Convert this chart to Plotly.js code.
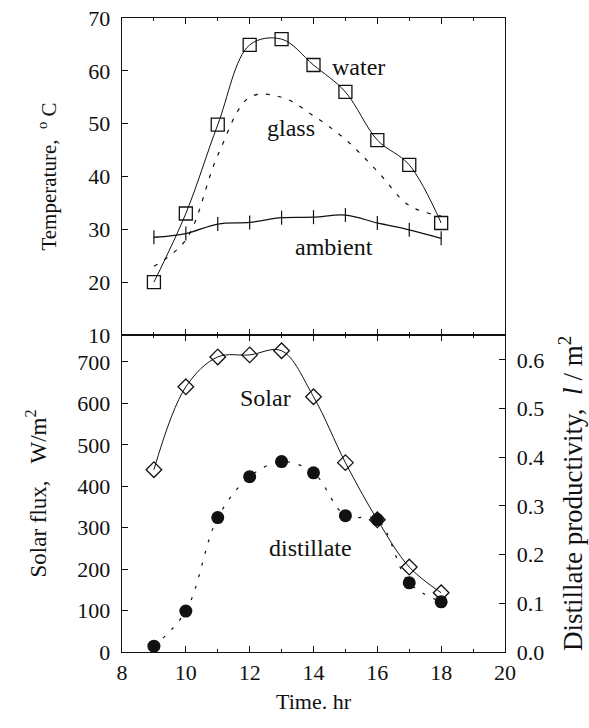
<!DOCTYPE html>
<html>
<head>
<meta charset="utf-8">
<script src="https://cdn.plot.ly/plotly-3.0.1.min.js"></script>
<style>html,body{margin:0;padding:0;background:#fff;}#chart{width:589px;height:728px;}</style>
</head>
<body>
<div id="chart"></div>
<script>
// ---- data ----
var hours = [9, 10, 11, 12, 13, 14, 15, 16, 17, 18];
var waterTemp = [20, 33, 49.8, 64.9, 66, 61.1, 56, 46.9, 42.2, 31.2];
var glassTemp = [23, 28, 44, 55, 55, 51.5, 47, 41, 34.5, 32.5];
var ambientTemp = [28.5, 29.2, 31, 31.3, 32.2, 32.3, 32.7, 31.2, 29.9, 28.3];
var solarFlux = [440, 640, 712, 717, 727, 616, 457, 319, 205, 143];
var distillate = [0.012, 0.084, 0.276, 0.36, 0.391, 0.368, 0.28, 0.272, 0.142, 0.103];

var timeTicks = [8, 10, 12, 14, 16, 18, 20];
var tempTicks = [10, 20, 30, 40, 50, 60, 70];
var solarTicks = [0, 100, 200, 300, 400, 500, 600, 700];
var prodTicks = [0, 0.1, 0.2, 0.3, 0.4, 0.5, 0.6];

var seriesLabels = ['water', 'glass', 'ambient', 'Solar', 'distillate'];

var ink = '#111';
var family = 'Liberation Serif, Times New Roman, serif';
function F(s) { return {family: family, size: s, color: ink}; }
var fnt = F(22);

var traces = [
  {x: hours, y: waterTemp, xaxis: 'x2', yaxis: 'y2', mode: 'lines+markers', name: seriesLabels[0],
   line: {color: ink, width: 1, shape: 'spline', smoothing: 1},
   marker: {symbol: 'square-open', size: 13, color: ink, line: {width: 1.3}}},
  {x: hours, y: glassTemp, xaxis: 'x2', yaxis: 'y2', mode: 'lines', name: seriesLabels[1],
   line: {color: ink, width: 1.2, shape: 'spline', smoothing: 1, dash: '4px,8px'}},
  {x: hours, y: ambientTemp, xaxis: 'x2', yaxis: 'y2', mode: 'lines+markers', name: seriesLabels[2],
   line: {color: ink, width: 1.3, shape: 'spline', smoothing: 1},
   marker: {symbol: 'line-ns-open', size: 10, color: ink, line: {width: 1.2, color: ink}}},
  {x: hours, y: solarFlux, xaxis: 'x', yaxis: 'y', mode: 'lines+markers', name: seriesLabels[3],
   line: {color: ink, width: 1, shape: 'spline', smoothing: 1},
   marker: {symbol: 'diamond-open', size: 12, color: ink, line: {width: 1.3}}},
  {x: hours, y: distillate, xaxis: 'x', yaxis: 'y3', mode: 'lines+markers', name: seriesLabels[4],
   line: {color: ink, width: 1.2, shape: 'spline', smoothing: 1, dash: '3px,9px'},
   marker: {symbol: 'circle', size: 13, color: ink}}
];

var axBase = {showgrid: false, zeroline: false, showline: true, linecolor: ink, linewidth: 1.3,
  ticks: 'inside', ticklen: 6, tickcolor: ink, tickfont: fnt};

var layout = {
  width: 589, height: 728,
  margin: {l: 122, r: 84, t: 18, b: 76},
  paper_bgcolor: '#fff', plot_bgcolor: '#fff',
  showlegend: false,
  font: fnt,
  xaxis: Object.assign({}, axBase, {domain: [0, 1], anchor: 'y', range: [8, 20], tickvals: timeTicks,
    mirror: 'ticks', minor: {dtick: 1, ticklen: 3, ticks: 'inside', tickcolor: ink},
    title: {text: 'Time. hr', font: F(22), standoff: 10}}),
  xaxis2: Object.assign({}, axBase, {domain: [0, 1], anchor: 'y2', range: [8, 20], tickvals: timeTicks,
    showticklabels: false, mirror: 'ticks', minor: {dtick: 1, ticklen: 3, ticks: 'inside', tickcolor: ink}}),
  yaxis: Object.assign({}, axBase, {domain: [0, 0.5], anchor: 'x', range: [0, 765], tickvals: solarTicks,
    ticklabelstandoff: 6,
    title: {text: 'Solar flux,   W/m<sup>2</sup>', font: F(23), standoff: 24}}),
  yaxis2: Object.assign({}, axBase, {domain: [0.5, 1], anchor: 'x2', range: [10, 70], tickvals: tempTicks,
    mirror: true, ticklabelstandoff: 6,
    title: {text: 'Temperature,  <sup>o</sup> C', font: F(21), standoff: 26}}),
  yaxis3: Object.assign({}, axBase, {anchor: 'x', overlaying: 'y', side: 'right', range: [0, 0.651],
    tickvals: prodTicks, tickformat: '.1f', ticklabelstandoff: 6,
    title: {text: 'Distillate productivity,  <i>l</i> / m<sup>2</sup>', font: F(27), standoff: 20}}),
  annotations: [
    {xref: 'x2', yref: 'y2', x: 15.4, y: 60.8, text: seriesLabels[0], showarrow: false, font: F(24)},
    {xref: 'x2', yref: 'y2', x: 13.3, y: 49.2, text: seriesLabels[1], showarrow: false, font: F(24)},
    {xref: 'x2', yref: 'y2', x: 14.65, y: 26.7, text: seriesLabels[2], showarrow: false, font: F(24)},
    {xref: 'x', yref: 'y', x: 12.5, y: 613, text: seriesLabels[3], showarrow: false, font: F(24)},
    {xref: 'x', yref: 'y', x: 13.9, y: 251, text: seriesLabels[4], showarrow: false, font: F(24)}
  ]
};

Plotly.newPlot('chart', traces, layout, {displayModeBar: false, staticPlot: true});
</script>
</body>
</html>
